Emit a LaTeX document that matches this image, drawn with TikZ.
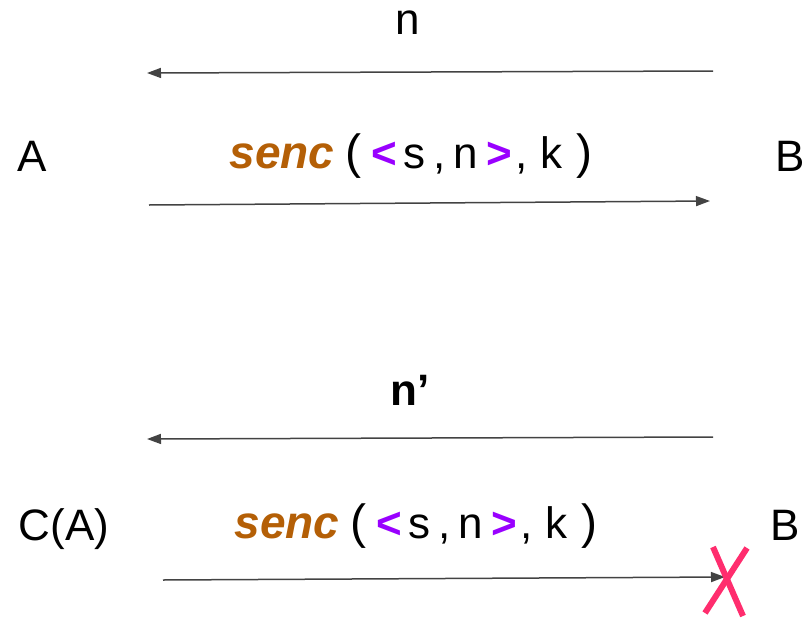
\documentclass[tikz,border=0pt]{standalone}
\usepackage{fontspec}
\setmainfont{Liberation Sans}
\usetikzlibrary{arrows.meta}
\definecolor{arr}{HTML}{434343}
\definecolor{sencc}{HTML}{B45F06}
\definecolor{brk}{HTML}{9900FF}
\definecolor{xred}{HTML}{FF2D6E}
\newcommand\bigfont{\fontsize{44}{52}\selectfont}
\newcommand\sencline[3]{%
  \node[lbl, font=\fontsize{46}{54}\selectfont\bfseries\itshape, text=sencc] (#1a) at ({282+#2},#3) {senc};
  \node[lbl, font=\fontsize{48}{56}\selectfont] (#1b) at ({353+#2},#3) {(};
  \node[lbl, font=\bigfont\bfseries, text=brk] (#1c) at ({384+#2},#3) {<};
  \node[lbl] (#1d) at ({414+#2},#3) {s};
  \node[lbl] (#1e) at ({440+#2},#3) {,};
  \node[lbl] (#1f) at ({466+#2},#3) {n};
  \node[lbl, font=\bigfont\bfseries, text=brk] (#1g) at ({499+#2},#3) {>};
  \node[lbl] (#1h) at ({522+#2},#3) {,};
  \node[lbl] (#1i) at ({551+#2},#3) {k};
  \node[lbl, font=\fontsize{48}{56}\selectfont] (#1j) at ({584+#2},#3) {)};
}
\begin{document}
\begin{tikzpicture}[x=1pt,y=-1pt,
  lbl/.style={font=\bigfont, inner sep=0pt, anchor=base},
  msg/.style={draw=arr, line width=1.5pt, -{Triangle[length=14pt,width=10pt]}}]
\useasboundingbox (0,0) rectangle (812,619);
% top exchange
\node[lbl] (n1) at (408,34) {n};
\node[lbl] (A) at (32,171) {A};
\node[lbl] (B1) at (790,171) {B};
\sencline{t}{0}{168}
\coordinate (t1s) at (713,71);
\coordinate (t1e) at (147,73);
\draw[msg] (t1s) -- (t1e);
\coordinate (t2s) at (149,205);
\coordinate (t2e) at (710,201);
\draw[msg] (t2s) -- (t2e);
% bottom exchange
\node[lbl, font=\bigfont\bfseries] (n2) at (410,405) {n’};
\node[lbl] (CA) at (64,540) {C(A)};
\node[lbl] (B2) at (785,540) {B};
\sencline{b}{5}{538}
\coordinate (b1s) at (713,437);
\coordinate (b1e) at (147,439);
\draw[msg] (b1s) -- (b1e);
\coordinate (b2s) at (163,580);
\coordinate (b2e) at (725,577);
\draw[msg] (b2s) -- (b2e);
% cross
\coordinate (x1a) at (713,547);
\coordinate (x1b) at (743,616);
\coordinate (x2a) at (747,548);
\coordinate (x2b) at (705,613);
\draw[xred, line width=6pt] (x1a) -- (x1b);
\draw[xred, line width=6pt] (x2a) -- (x2b);
\end{tikzpicture}
\end{document}
